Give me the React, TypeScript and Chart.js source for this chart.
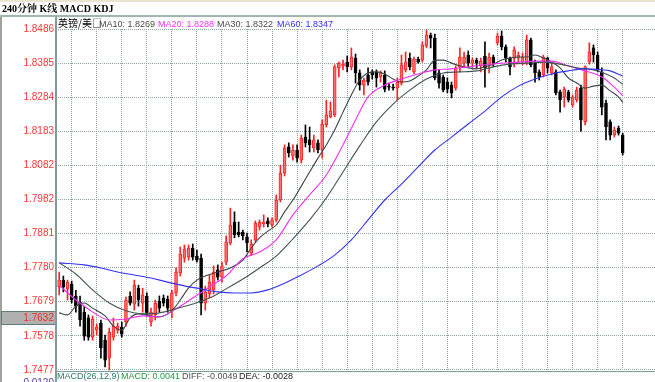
import React, { useEffect, useRef } from "react";
import { Chart, registerables } from "chart.js";

Chart.register(...registerables);

// ---- Candle data (240-minute bars, GBP/USD) ----
const opens = [
  1.7722, 1.7743, 1.7716, 1.7731, 1.7696, 1.7678, 1.7648, 1.7631, 1.7574, 1.7595,
  1.7616, 1.7565, 1.7512, 1.7574, 1.7595, 1.7604, 1.7619, 1.7696, 1.7672, 1.7719,
  1.7675, 1.7696, 1.7619, 1.7640, 1.7681, 1.7690, 1.7687, 1.7651, 1.7705, 1.7764,
  1.7808, 1.7811, 1.7838, 1.7814, 1.7808, 1.7675, 1.7702, 1.7713, 1.7773, 1.7752,
  1.7796, 1.7853, 1.7915, 1.7885, 1.7885, 1.7871, 1.7823, 1.7862, 1.7900, 1.7909,
  1.7918, 1.7906, 1.7921, 1.7980, 1.8060, 1.8137, 1.8110, 1.8128, 1.8098, 1.8166,
  1.8158, 1.8134, 1.8149, 1.8128, 1.8202, 1.8226, 1.8232, 1.8371, 1.8377, 1.8388,
  1.8374, 1.8400, 1.8356, 1.8320, 1.8350, 1.8359, 1.8359, 1.8344, 1.8350, 1.8317,
  1.8314, 1.8311, 1.8326, 1.8365, 1.8400, 1.8359, 1.8397, 1.8394, 1.8436, 1.8468,
  1.8459, 1.8356, 1.8344, 1.8329, 1.8320, 1.8311, 1.8374, 1.8385, 1.8409, 1.8385,
  1.8394, 1.8377, 1.8406, 1.8380, 1.8403, 1.8445, 1.8465, 1.8433, 1.8400, 1.8400,
  1.8400, 1.8388, 1.8385, 1.8454, 1.8385, 1.8359, 1.8350, 1.8400, 1.8356, 1.8359,
  1.8300, 1.8285, 1.8300, 1.8261, 1.8276, 1.8311, 1.8211, 1.8388, 1.8430, 1.8409,
  1.8359, 1.8267, 1.8211, 1.8172, 1.8193, 1.8172,
];
const highs = [
  1.7767, 1.7755, 1.7743, 1.7740, 1.7713, 1.7696, 1.7666, 1.7640, 1.7637, 1.7613,
  1.7625, 1.7580, 1.7601, 1.7631, 1.7616, 1.7619, 1.7693, 1.7708, 1.7743, 1.7728,
  1.7719, 1.7705, 1.7660, 1.7684, 1.7696, 1.7699, 1.7696, 1.7713, 1.7779, 1.7841,
  1.7847, 1.7847, 1.7850, 1.7832, 1.7820, 1.7725, 1.7758, 1.7785, 1.7788, 1.7796,
  1.7874, 1.7956, 1.7945, 1.7915, 1.7891, 1.7882, 1.7862, 1.7918, 1.7921, 1.7936,
  1.7927, 1.7927, 1.7995, 1.8083, 1.8143, 1.8149, 1.8143, 1.8143, 1.8172, 1.8202,
  1.8196, 1.8172, 1.8158, 1.8217, 1.8276, 1.8270, 1.8380, 1.8388, 1.8394, 1.8406,
  1.8430, 1.8412, 1.8365, 1.8341, 1.8371, 1.8365, 1.8365, 1.8362, 1.8362, 1.8326,
  1.8323, 1.8341, 1.8409, 1.8418, 1.8415, 1.8403, 1.8403, 1.8448, 1.8483, 1.8474,
  1.8471, 1.8365, 1.8350, 1.8341, 1.8329, 1.8377, 1.8430, 1.8418, 1.8421, 1.8400,
  1.8400, 1.8400, 1.8448, 1.8415, 1.8409, 1.8474, 1.8480, 1.8439, 1.8403, 1.8433,
  1.8418, 1.8415, 1.8468, 1.8459, 1.8394, 1.8365, 1.8409, 1.8403, 1.8385, 1.8365,
  1.8305, 1.8314, 1.8305, 1.8291, 1.8314, 1.8320, 1.8377, 1.8445, 1.8439, 1.8418,
  1.8371, 1.8276, 1.8217, 1.8196, 1.8199, 1.8178,
];
const lows = [
  1.7699, 1.7708, 1.7684, 1.7675, 1.7648, 1.7607, 1.7565, 1.7565, 1.7565, 1.7580,
  1.7512, 1.7486, 1.7477, 1.7565, 1.7586, 1.7574, 1.7607, 1.7669, 1.7654, 1.7666,
  1.7648, 1.7637, 1.7607, 1.7625, 1.7648, 1.7666, 1.7648, 1.7631, 1.7696, 1.7755,
  1.7796, 1.7802, 1.7802, 1.7796, 1.7640, 1.7654, 1.7690, 1.7702, 1.7743, 1.7737,
  1.7788, 1.7847, 1.7868, 1.7871, 1.7862, 1.7826, 1.7817, 1.7856, 1.7891, 1.7900,
  1.7900, 1.7900, 1.7915, 1.7974, 1.8051, 1.8107, 1.8098, 1.8092, 1.8089, 1.8137,
  1.8122, 1.8122, 1.8119, 1.8104, 1.8196, 1.8223, 1.8226, 1.8344, 1.8365, 1.8359,
  1.8365, 1.8326, 1.8305, 1.8291, 1.8320, 1.8338, 1.8314, 1.8329, 1.8300, 1.8305,
  1.8305, 1.8276, 1.8320, 1.8359, 1.8365, 1.8353, 1.8385, 1.8388, 1.8430, 1.8430,
  1.8335, 1.8311, 1.8300, 1.8297, 1.8282, 1.8305, 1.8359, 1.8371, 1.8374, 1.8374,
  1.8371, 1.8359, 1.8314, 1.8356, 1.8374, 1.8439, 1.8424, 1.8388, 1.8350, 1.8374,
  1.8385, 1.8380, 1.8380, 1.8374, 1.8329, 1.8335, 1.8344, 1.8356, 1.8350, 1.8291,
  1.8240, 1.8255, 1.8270, 1.8255, 1.8270, 1.8184, 1.8202, 1.8382, 1.8388, 1.8359,
  1.8232, 1.8158, 1.8158, 1.8166, 1.8172, 1.8113,
];
const closes = [
  1.7743, 1.7722, 1.7737, 1.7684, 1.7666, 1.7625, 1.7577, 1.7574, 1.7628, 1.7604,
  1.7542, 1.7506, 1.7589, 1.7607, 1.7607, 1.7583, 1.7684, 1.7675, 1.7728, 1.7684,
  1.7699, 1.7645, 1.7648, 1.7675, 1.7660, 1.7675, 1.7660, 1.7705, 1.7767, 1.7820,
  1.7835, 1.7838, 1.7811, 1.7802, 1.7675, 1.7708, 1.7737, 1.7767, 1.7752, 1.7785,
  1.7856, 1.7906, 1.7877, 1.7877, 1.7874, 1.7853, 1.7850, 1.7912, 1.7915, 1.7915,
  1.7909, 1.7921, 1.7980, 1.8060, 1.8134, 1.8119, 1.8128, 1.8104, 1.8163, 1.8149,
  1.8143, 1.8158, 1.8128, 1.8205, 1.8232, 1.8243, 1.8374, 1.8385, 1.8382, 1.8374,
  1.8403, 1.8356, 1.8320, 1.8335, 1.8329, 1.8350, 1.8341, 1.8356, 1.8308, 1.8314,
  1.8311, 1.8329, 1.8380, 1.8388, 1.8374, 1.8397, 1.8388, 1.8439, 1.8468, 1.8459,
  1.8341, 1.8326, 1.8305, 1.8308, 1.8297, 1.8371, 1.8403, 1.8403, 1.8385, 1.8394,
  1.8385, 1.8391, 1.8371, 1.8403, 1.8385, 1.8465, 1.8433, 1.8400, 1.8374, 1.8424,
  1.8409, 1.8403, 1.8454, 1.8380, 1.8356, 1.8344, 1.8403, 1.8371, 1.8374, 1.8297,
  1.8276, 1.8308, 1.8276, 1.8285, 1.8305, 1.8217, 1.8374, 1.8418, 1.8409, 1.8365,
  1.8255, 1.8196, 1.8172, 1.8187, 1.8178, 1.8119,
];

// ---- Moving averages, read at sampled bar indices ----
const ma10Idx = [0, 2, 4, 6, 8, 11, 13, 15, 17, 19, 21, 23, 25, 27, 29, 31, 33, 35, 38, 41, 44, 46, 48, 50, 52, 54, 56, 58, 60, 62, 64, 66, 68, 70, 72, 74, 76, 78, 80, 82, 84, 86, 88, 90, 92, 94, 96, 98, 100, 102, 104, 106, 108, 110, 112, 114, 116, 118, 120, 122, 124, 126, 128, 130, 132, 134, 135];
const ma10Vals = [1.7646, 1.7640, 1.7666, 1.7675, 1.7660, 1.7637, 1.7607, 1.7595, 1.7631, 1.7643, 1.7640, 1.7634, 1.7637, 1.7652, 1.7684, 1.7720, 1.7743, 1.7755, 1.7767, 1.7779, 1.7802, 1.7838, 1.7868, 1.7888, 1.7906, 1.7945, 1.7980, 1.8021, 1.8063, 1.8104, 1.8143, 1.8187, 1.8240, 1.8291, 1.8335, 1.8356, 1.8359, 1.8353, 1.8338, 1.8329, 1.8332, 1.8347, 1.8365, 1.8394, 1.8394, 1.8385, 1.8377, 1.8371, 1.8368, 1.8374, 1.8382, 1.8394, 1.8400, 1.8403, 1.8403, 1.8409, 1.8400, 1.8388, 1.8371, 1.8341, 1.8326, 1.8311, 1.8317, 1.8320, 1.8303, 1.8285, 1.8269];

const ma20Idx = [0, 4, 8, 12, 16, 20, 24, 28, 32, 36, 40, 44, 48, 52, 56, 60, 64, 68, 71, 74, 78, 82, 86, 90, 94, 98, 102, 106, 110, 114, 118, 122, 126, 130, 133, 135];
const ma20Vals = [1.7728, 1.7684, 1.7649, 1.7625, 1.7628, 1.7637, 1.7634, 1.7658, 1.7690, 1.7723, 1.7755, 1.7806, 1.7826, 1.7862, 1.7936, 1.7995, 1.8054, 1.8143, 1.8217, 1.8285, 1.8320, 1.8338, 1.8353, 1.8365, 1.8368, 1.8374, 1.8380, 1.8385, 1.8388, 1.8391, 1.8391, 1.8377, 1.8362, 1.8344, 1.8314, 1.8288];

const ma30Idx = [0, 4, 8, 12, 16, 20, 24, 28, 32, 36, 40, 44, 48, 52, 56, 60, 64, 68, 72, 76, 80, 84, 88, 92, 96, 100, 104, 108, 112, 116, 120, 124, 128, 131, 133, 135];
const ma30Vals = [1.7794, 1.7761, 1.7714, 1.7675, 1.7652, 1.7643, 1.7646, 1.7658, 1.7672, 1.7690, 1.7717, 1.7746, 1.7779, 1.7814, 1.7865, 1.7921, 1.7986, 1.8063, 1.8140, 1.8211, 1.8264, 1.8305, 1.8338, 1.8356, 1.8359, 1.8362, 1.8374, 1.8382, 1.8385, 1.8388, 1.8382, 1.8371, 1.8365, 1.8353, 1.8341, 1.8322];

const ma60Idx = [0, 6, 10, 14, 18, 22, 26, 30, 34, 38, 42, 46, 50, 54, 58, 62, 66, 70, 74, 78, 82, 86, 90, 94, 98, 102, 106, 110, 114, 118, 122, 126, 130, 132, 135];
const ma60Vals = [1.7794, 1.7788, 1.7779, 1.7767, 1.7758, 1.7749, 1.7737, 1.7726, 1.7717, 1.7708, 1.7705, 1.7705, 1.7714, 1.7734, 1.7758, 1.7785, 1.7817, 1.7862, 1.7921, 1.7980, 1.8027, 1.8078, 1.8128, 1.8166, 1.8205, 1.8243, 1.8285, 1.8317, 1.8338, 1.8353, 1.8362, 1.8368, 1.8365, 1.8362, 1.8347];

// ---- Axis ticks ----
const yTicks = [1.7477, 1.7578, 1.7679, 1.7780, 1.7881, 1.7982, 1.8082, 1.8183, 1.8284, 1.8385, 1.8486];
const gridIdx = [3, 9, 15, 21, 27, 33, 39, 45, 51, 57, 63, 69, 75, 81, 87, 93, 99, 105, 111, 117, 123, 129, 135];

const X_MIN = -0.76;
const X_MAX = 142.74;
const Y_MIN = 1.7474;
const Y_MAX = 1.8486;

const UP_EDGE = "#ff2424";
const UP_FILL = "#ff6e6e";
const DOWN = "#000000";
const GRID = "#8ea6a6";

const abs = (s: React.CSSProperties): React.CSSProperties => ({
  position: "absolute",
  whiteSpace: "nowrap",
  margin: 0,
  ...s,
});

const SANS = '"Liberation Sans", Arial, sans-serif';

export default function App() {
  const ref = useRef<HTMLCanvasElement | null>(null);

  useEffect(() => {
    if (!ref.current) return;
    const idx = opens.map((_, i) => i);
    const up = idx.map((i) => closes[i] >= opens[i]);
    const line = (xs: number[], ys: number[], color: string) => ({
      type: "line" as const,
      data: xs.map((x, k) => ({ x, y: ys[k] })),
      borderColor: color,
      borderWidth: 1.1,
      pointRadius: 0,
      fill: false,
      cubicInterpolationMode: "monotone" as const,
      order: 1,
    });
    const chart = new Chart(ref.current, {
      type: "bar",
      data: {
        datasets: [
          {
            type: "bar",
            data: idx.map((i) => ({ x: i, y: [lows[i], highs[i]] })) as any,
            backgroundColor: idx.map((i) => (up[i] ? UP_EDGE : DOWN)),
            barThickness: 1,
            grouped: false,
            order: 3,
          },
          {
            type: "bar",
            data: idx.map((i) => ({
              x: i,
              y: [Math.min(opens[i], closes[i]), Math.max(opens[i], closes[i])],
            })) as any,
            backgroundColor: idx.map((i) => (up[i] ? UP_FILL : DOWN)),
            borderColor: idx.map((i) => (up[i] ? UP_EDGE : DOWN)),
            borderWidth: 1,
            borderSkipped: false,
            barThickness: 3,
            minBarLength: 1,
            grouped: false,
            order: 2,
          },
          line(ma60Idx, ma60Vals, "#3434ee") as any,
          line(ma30Idx, ma30Vals, "#445454") as any,
          line(ma20Idx, ma20Vals, "#f030f0") as any,
          line(ma10Idx, ma10Vals, "#3a4646") as any,
        ],
      },
      options: {
        animation: false,
        responsive: false,
        maintainAspectRatio: false,
        events: [],
        layout: { padding: { top: 29, bottom: 11, left: 0, right: 0 } },
        plugins: {
          legend: { display: false },
          tooltip: { enabled: false },
          title: { display: false },
        },
        scales: {
          x: {
            type: "linear",
            display: true,
            min: X_MIN,
            max: X_MAX,
            offset: false,
            ticks: { display: false },
            grid: { display: true, drawTicks: false, color: GRID, lineWidth: 1, offset: false },
            border: { display: false, dash: [1, 1] },
            afterBuildTicks: (s: any) => {
              s.ticks = gridIdx.map((value) => ({ value }));
            },
            afterFit: (s: any) => {
              s.height = 0;
            },
          },
          y: {
            type: "linear",
            position: "left",
            min: Y_MIN,
            max: Y_MAX,
            beginAtZero: false,
            grid: { display: true, drawTicks: false, color: GRID, lineWidth: 1 },
            border: { display: false, dash: [1, 1] },
            ticks: {
              color: "#ff3838",
              font: { family: SANS, size: 10 },
              padding: 2,
              autoSkip: false,
              callback: (v: any) => Number(v).toFixed(4),
            },
            afterBuildTicks: (s: any) => {
              s.ticks = yTicks.map((value) => ({ value }));
            },
            afterFit: (s: any) => {
              s.width = 56;
            },
          },
        },
      },
    });
    return () => chart.destroy();
  }, []);

  return (
    <div
      style={{
        position: "absolute",
        left: 0,
        top: 0,
        width: 655,
        height: 382,
        overflow: "hidden",
        background: "#ffffff",
      }}
    >
      <canvas ref={ref} width={655} height={382} style={{ position: "absolute", left: 0, top: 0, width: 655, height: 382 }} />
      {/* frame decorations */}
      <div style={abs({ left: 0, top: 0, width: 655, height: 2, background: "#ebe4d0" })} />
      <div style={abs({ left: 0, top: 15, width: 655, height: 2, background: "#a2b3b3" })} />
      <div style={abs({ left: 0, top: 17, width: 2, height: 365, background: "#a3a09a" })} />
      <div
        style={abs({
          left: 1,
          top: 311,
          width: 55,
          height: 14,
          boxSizing: "border-box",
          background: "#b0b0b0",
          border: "1px solid #627a7a",
          color: "#f03030",
          font: `10px ${SANS}`,
          lineHeight: "12px",
          textAlign: "right",
          paddingRight: 1,
        })}
      >
        1.7632
      </div>
      <div style={abs({ left: 55, top: 17, width: 2, height: 365, background: "#7c9c9c" })} />
      <div style={abs({ left: 56, top: 371, width: 599, height: 1, background: "#7c9c9c" })} />

      {/* title */}
      <div
        style={abs({
          left: 2,
          top: 2,
          font: 'bold 10px "Liberation Serif", "Noto Serif CJK SC", "Noto Sans CJK SC", serif',
          lineHeight: "13px",
          color: "#000",
        })}
      >
        240分钟 K线 MACD KDJ
      </div>

      {/* MA legend */}
      <div style={abs({ left: 58, top: 16, font: '10px "Noto Sans CJK SC", sans-serif', lineHeight: "13px", color: "#000" })}>
        英镑/美□
      </div>
      <div style={abs({ left: 99, top: 18, font: `9px ${SANS}`, lineHeight: "12px", color: "#4a4a4a" })}>MA10: 1.8269</div>
      <div style={abs({ left: 158, top: 18, font: `9px ${SANS}`, lineHeight: "12px", color: "#ff30ff" })}>MA20: 1.8288</div>
      <div style={abs({ left: 217, top: 18, font: `9px ${SANS}`, lineHeight: "12px", color: "#4a4a4a" })}>MA30: 1.8322</div>
      <div style={abs({ left: 277, top: 18, font: `9px ${SANS}`, lineHeight: "12px", color: "#3030ff" })}>MA60: 1.8347</div>

      {/* MACD panel header */}
      <div style={abs({ left: 57, top: 370, font: `9px ${SANS}`, lineHeight: "12px", color: "#2a8060" })}>MACD(26,12,9)</div>
      <div style={abs({ left: 121, top: 370, font: `9px ${SANS}`, lineHeight: "12px", color: "#1f9a40" })}>MACD: 0.0041</div>
      <div style={abs({ left: 182, top: 370, font: `9px ${SANS}`, lineHeight: "12px", color: "#505050" })}>DIFF: -0.0049</div>
      <div style={abs({ left: 239, top: 370, font: `9px ${SANS}`, lineHeight: "12px", color: "#1a1a1a" })}>DEA: -0.0028</div>
      <div
        style={abs({
          left: 3,
          top: 377,
          width: 51,
          textAlign: "right",
          font: `10px ${SANS}`,
          lineHeight: "12px",
          color: "#5c3c98",
        })}
      >
        0.0120
      </div>
    </div>
  );
}
